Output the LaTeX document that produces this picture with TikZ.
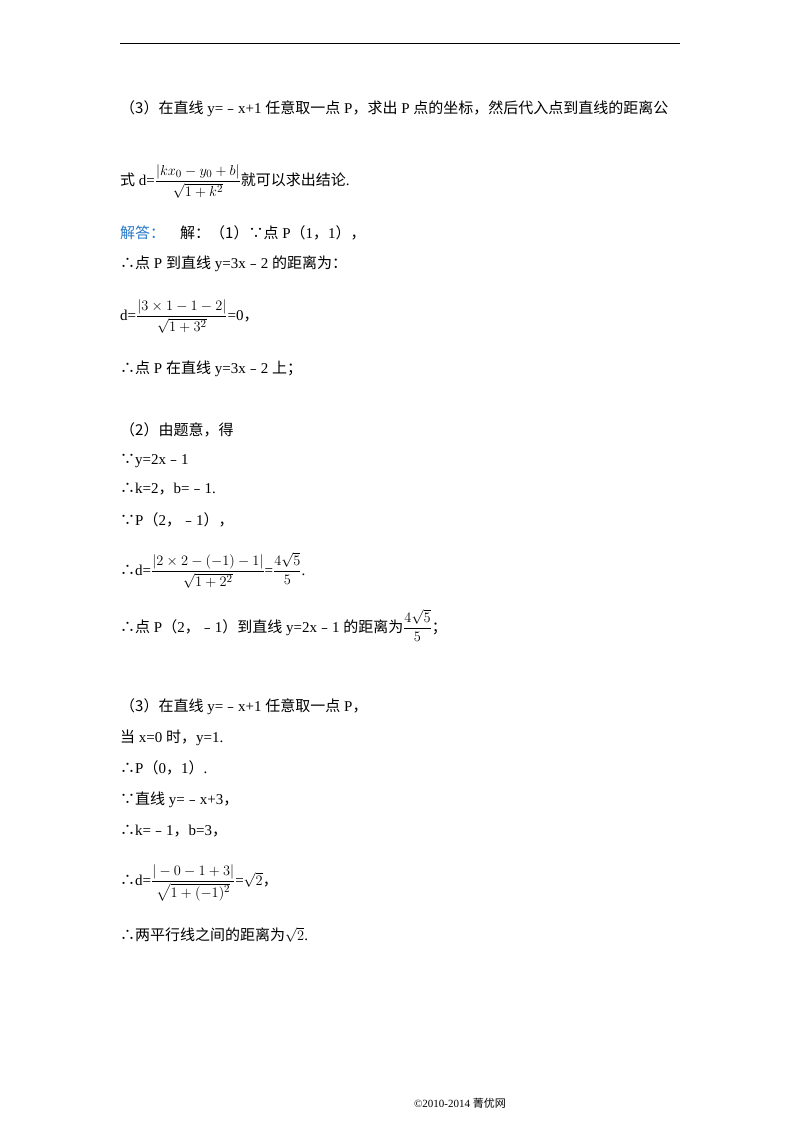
\documentclass[tikz,border=0pt]{standalone}
\usepackage{amsmath}
\usepackage{fontspec}
\setmainfont{Liberation Serif}
\newfontfamily\cjk{Noto Sans CJK SC}
\newcommand{\C}[1]{{\cjk #1}}
\definecolor{ansblue}{RGB}{40,120,200}
\begin{document}
\begin{tikzpicture}[x=1pt,y=1pt,
  ln/.style={anchor=base west,inner sep=0pt,font=\fontsize{15}{18}\selectfont},
  ft/.style={anchor=base,inner sep=0pt,font=\fontsize{11}{13}\selectfont}]
\useasboundingbox[fill=white] (0,0) rectangle (800,-1132);
\draw[line width=0.8pt] (120,-43) -- (680,-43);
\node[ln] (l1) at (120,-113) {\C{（3）在直线} y=\C{﹣}x+1 \C{任意取一点} P\C{，求出} P \C{点的坐标，然后代入点到直线的距离公}};
\node[ln] (l2) at (120,-185) {\C{式} d=$\dfrac{|kx_0-y_0+b|}{\sqrt{1+k^2}}$\C{就可以求出结论}.};
\node[ln] (l3) at (120,-238) {\textcolor{ansblue}{\C{解答：}}\quad \C{解：（1）∵点} P\C{（}1\C{，}1\C{），}};
\node[ln] (l4) at (120,-268) {\C{∴点} P \C{到直线} y=3x\C{﹣}2 \C{的距离为：}};
\node[ln] (l5) at (120,-320) {d=$\dfrac{|3\times1-1-2|}{\sqrt{1+3^2}}$=0\C{，}};
\node[ln] (l6) at (120,-373) {\C{∴点} P \C{在直线} y=3x\C{﹣}2 \C{上；}};
\node[ln] (l7) at (120,-435) {\C{（2）由题意，得}};
\node[ln] (l8) at (120,-464) {\C{∵}y=2x\C{﹣}1};
\node[ln] (l9) at (120,-493) {\C{∴}k=2\C{，}b=\C{﹣}1.};
\node[ln] (l10) at (120,-525) {\C{∵}P\C{（}2\C{，﹣}1\C{），}};
\node[ln] (l11) at (120,-575) {\C{∴}d=$\dfrac{|2\times2-(-1)-1|}{\sqrt{1+2^2}}$=$\dfrac{4\sqrt5}{5}$.};
\node[ln] (l12) at (120,-632) {\C{∴点} P\C{（}2\C{，﹣}1\C{）到直线} y=2x\C{﹣}1 \C{的距离为}$\dfrac{4\sqrt5}{5}$\C{；}};
\node[ln] (l13) at (120,-711) {\C{（3）在直线} y=\C{﹣}x+1 \C{任意取一点} P\C{，}};
\node[ln] (l14) at (120,-742) {\C{当} x=0 \C{时，}y=1.};
\node[ln] (l15) at (120,-773) {\C{∴}P\C{（}0\C{，}1\C{）}.};
\node[ln] (l16) at (120,-804) {\C{∵直线} y=\C{﹣}x+3\C{，}};
\node[ln] (l17) at (120,-835) {\C{∴}k=\C{﹣}1\C{，}b=3\C{，}};
\node[ln] (l18) at (120,-885) {\C{∴}d=$\dfrac{|-0-1+3|}{\sqrt{1+(-1)^2}}$=$\sqrt2$\C{，}};
\node[ln] (l19) at (120,-940) {\C{∴两平行线之间的距离为}$\sqrt2$.};
\node[ft] (foot) at (460,-1107) {©2010-2014 \C{菁优网}};
\end{tikzpicture}
\end{document}
